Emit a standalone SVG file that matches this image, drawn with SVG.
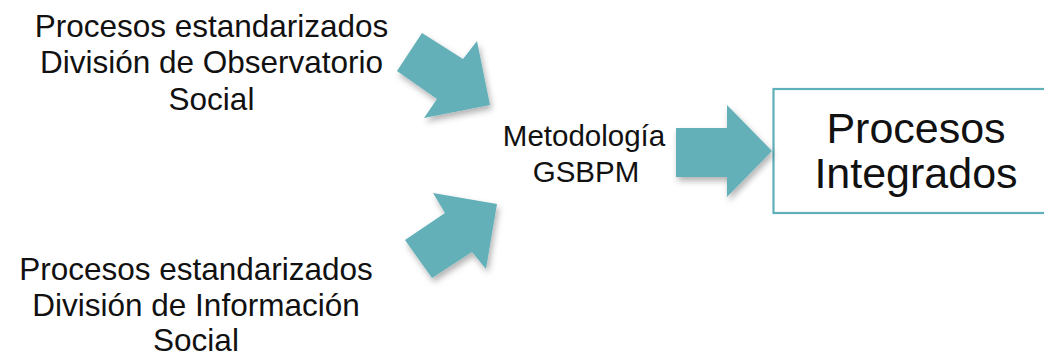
<svg xmlns="http://www.w3.org/2000/svg" width="1044" height="357" viewBox="0 0 1044 357">
<style>
.t{font-family:"Liberation Sans",Arial,sans-serif;fill:#111;text-anchor:middle}
.arr{fill:#63b0b9;filter:url(#sh)}
</style>
<defs>
<filter id="sh" x="-20%" y="-20%" width="150%" height="150%">
<feDropShadow dx="2" dy="4" stdDeviation="3" flood-color="#000" flood-opacity="0.3"/>
</filter>
</defs>
<rect width="1044" height="357" fill="#fff"/>
<g id="src1">
<text class="t" font-size="31.5" x="211.5"><tspan x="211.5" y="37">Procesos estandarizados</tspan><tspan x="211.5" y="73">División de Observatorio</tspan><tspan x="211.5" y="110">Social</tspan></text>
</g>
<g id="src2">
<text class="t" font-size="31.5" x="196"><tspan x="196" y="280">Procesos estandarizados</tspan><tspan x="196" y="316">División de Información</tspan><tspan x="196" y="351">Social</tspan></text>
</g>
<g id="method">
<text class="t" font-size="29.5"><tspan x="584" y="146">Metodología</tspan><tspan x="586" y="182">GSBPM</tspan></text>
</g>
<g id="result">
<rect x="773.5" y="89" width="280" height="124" fill="#fff" stroke="#5fb0b8" stroke-width="2.2"/>
<text class="t" font-size="43"><tspan x="916" y="143">Procesos</tspan><tspan x="916" y="188">Integrados</tspan></text>
</g>
<g id="connectors">
<polygon class="arr" points="397,71 422,33 463,59 477,41 490,105 424,118 437,99"/>
<polygon class="arr" points="405,240 445,213 433,193 497,204 486,269 472,252 432,278"/>
<polygon class="arr" points="676,128 727,128 727,105 772,151 727,197 727,177 676,177"/>
</g>
</svg>
